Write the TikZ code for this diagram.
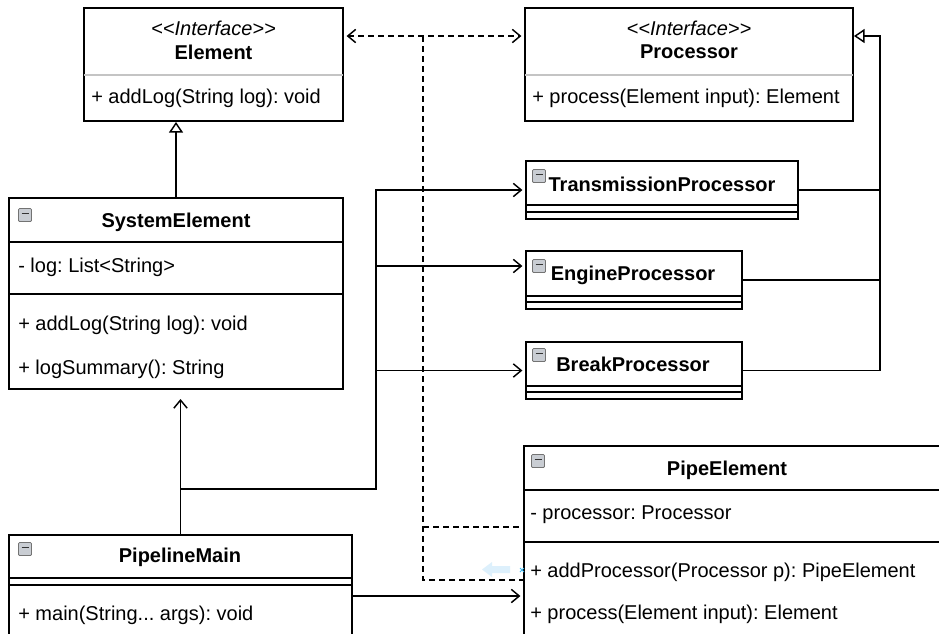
\documentclass[tikz,border=0pt]{standalone}
\usepackage{fontspec}
\setmainfont{Liberation Sans}
\usetikzlibrary{arrows.meta, positioning, fit, calc}
\definecolor{umlgray}{HTML}{C4C4C4}
\definecolor{umlicon}{HTML}{C9CDD3}
\definecolor{umlghost}{HTML}{DDF0FC}
\definecolor{umlhandle}{HTML}{3DB8F0}
\frenchspacing

\begin{document}
\begin{tikzpicture}[
  x=0.75pt, y=-0.75pt,
  umlbox/.style={draw, line width=1.4pt, fill=white, inner sep=0pt},
  stereo/.style={font=\fontsize{15}{18}\selectfont\itshape},
  cname/.style={font=\fontsize{15}{18}\selectfont\bfseries},
  member/.style={anchor=west, inner sep=0pt, font=\fontsize{15}{18}\selectfont},
  rule/.style={line width=1.4pt},
  softrule/.style={line width=1.4pt, umlgray},
  assoc/.style={-{Straight Barb[length=6pt,width=10pt,line width=1.1pt]}, line width=1.4pt, shorten >=2pt},
  realize/.style={-{Triangle[open,length=8pt,width=10.5pt,line width=1.1pt]}, line width=1.4pt},
  dep/.style={line width=1.1pt, dash pattern=on 4.5pt off 3pt},
  depboth/.style={dep, {Straight Barb[length=6pt,width=10pt,line width=1.1pt]}-{Straight Barb[length=6pt,width=10pt,line width=1.1pt]}, shorten <=2pt, shorten >=2pt},
  foldicon/.pic={
    \draw[black!55, fill=umlicon, line width=0.6pt, rounded corners=0.8pt] (-6.5,-6.5) rectangle (6.5,6.5);
    \draw[black!80, line width=1.3pt] (-3.5,-1.5) -- (3.5,-1.5);
  }
]
\useasboundingbox (0,0) rectangle (939,633);
\clip (0,0) rectangle (939,633);
\fill[white] (0,0) rectangle (939,633);

% Interfaces (top row)
\node[umlbox, fit={(84,8) (343,121)}] (element) {};
\draw[softrule] (84,75) -- (343,75);
\node[stereo] (elementst) at (213.5,28) {<\kern0pt<Interface>\kern0pt>};
\node[cname] (elementname) at (213.5,52) {Element};
\node[member] (elementm1) at (91,98) {+ addLog(String log): void};

\node[umlbox, fit={(525,8) (853,121)}] (processor) {};
\draw[softrule] (525,75) -- (853,75);
\node[stereo] (processorst) at (689,28) {<\kern0pt<Interface>\kern0pt>};
\node[cname] (processorname) at (689,52) {Processor};
\node[member] (processorm1) at (532,98) {+ process(Element input): Element};

% SystemElement
\node[umlbox, fit={(9,198) (343,389)}] (sysel) {};
\draw[rule] (9,242) -- (343,242);
\draw[rule] (9,294) -- (343,294);
\pic at (25,215) {foldicon};
\node[cname] (syselname) at (176,222) {SystemElement};
\node[member] (syself1) at (18,267) {- log: List<String>};
\node[member] (syselm1) at (18,325) {+ addLog(String log): void};
\node[member] (syselm2) at (18,369) {+ logSummary(): String};

% Concrete processors
\node[umlbox, fit={(526,161) (798,219)}] (transproc) {};
\draw[rule] (526,205) -- (798,205);
\draw[rule] (526,212) -- (798,212);
\pic at (539,176) {foldicon};
\node[cname] (transname) at (662,184) {TransmissionProcessor};

\node[umlbox, fit={(526,251) (742,309)}] (engineproc) {};
\draw[rule] (526,296) -- (742,296);
\draw[rule] (526,302) -- (742,302);
\pic at (539,266) {foldicon};
\node[cname] (enginename) at (633,275) {EngineProcessor};

\node[umlbox, fit={(526,342) (742,399)}] (breakproc) {};
\draw[rule] (526,386) -- (742,386);
\draw[rule] (526,392) -- (742,392);
\pic at (539,355) {foldicon};
\node[cname] (breakname) at (633,364) {BreakProcessor};

% PipelineMain and PipeElement (cut by the frame)
\node[umlbox, fit={(9,535) (352,660)}] (pmain) {};
\draw[rule] (9,578) -- (352,578);
\draw[rule] (9,585) -- (352,585);
\pic at (25,549) {foldicon};
\node[cname] (pmainname) at (180,557) {PipelineMain};
\node[member] (pmainm1) at (18,615) {+ main(String... args): void};

\node[umlbox, fit={(524,446) (945,680)}] (pipe) {};
\draw[rule] (524,490) -- (945,490);
\draw[rule] (524,542) -- (945,542);
\pic at (538,461) {foldicon};
\node[cname] (pipename) at (727,470) {PipeElement};
\node[member] (pipef1) at (530,515) {- processor: Processor};
\node[member] (pipem1) at (530,572) {+ addProcessor(Processor p): PipeElement};
\node[member] (pipem2) at (530,614) {+ process(Element input): Element};

% Helper points
\coordinate (depline) at (0,36);
\coordinate (tap) at (423,36);
\coordinate (holdrow) at (0,527);
\coordinate (addrow) at (0,580);
\coordinate (rbus) at (880,36);
\coordinate (lbus) at (376,489);
\coordinate (selhead) at (181,399);
\coordinate (callrow) at (0,596);
\coordinate (enginein) at ([yshift=10.5pt]engineproc.west);

% Dependencies
\draw[depboth] (element.east |- depline) -- (processor.west |- depline);
\draw[dep] (tap) |- (pipe.west |- addrow);
\draw[dep] (tap |- holdrow) -- (pipe.west |- holdrow);

% Generalisation / realisation
\draw[realize] (sysel.north) -- (sysel.north |- element.south);
\draw[realize] (transproc.east) -| (rbus) -- (processor.east |- rbus);
\draw[rule] (engineproc.east) -| (rbus |- transproc.east);
\draw[rule] (breakproc.east) -| (rbus |- engineproc.east);

% Associations
\draw[assoc, shorten >=0pt] (pmain.north) -- (pmain.north |- selhead);
\draw[assoc] (pmain.north |- lbus) -| (lbus |- transproc.west) -- (transproc.west);
\draw[assoc] (lbus |- enginein) -- (enginein);
\draw[assoc] (lbus |- breakproc.west) -- (breakproc.west);
\draw[assoc] (pmain.east |- callrow) -- (pipe.west |- callrow);

% hover marker left by the editor
\fill[umlghost] (482,569.5) -- (492,562) -- (492,566) -- (510,566) -- (510,573) -- (492,573) -- (492,577) -- cycle;
\draw[umlhandle, line width=0.6pt] (520,568) -- (524,572) (520,572) -- (524,568);

\end{tikzpicture}
\end{document}
